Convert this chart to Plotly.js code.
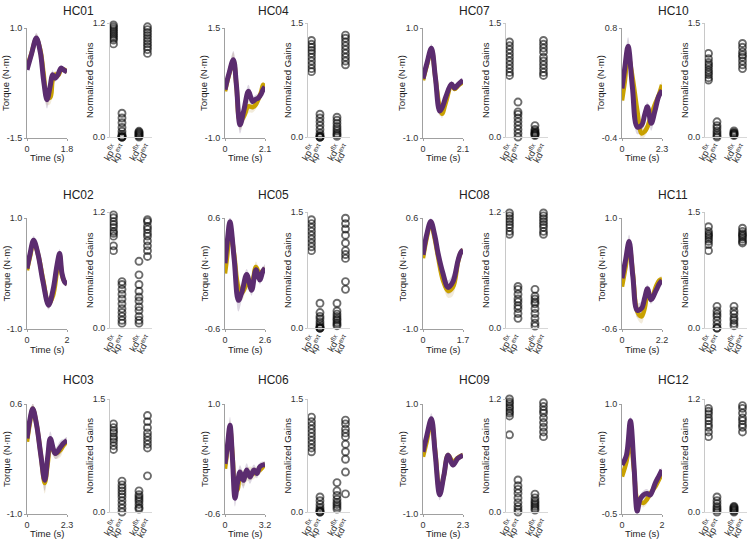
<!DOCTYPE html>
<html>
<head>
<meta charset="utf-8">
<script src="https://cdn.plot.ly/plotly-3.0.1.min.js"></script>
<style>html,body{margin:0;padding:0;background:#fff;}#chart{width:750px;height:543px;}</style>
</head>
<body>
<div id="chart"></div>
<script>
// ---------------- DATA ----------------
const subjects = ['HC01','HC02','HC03','HC04','HC05','HC06','HC07','HC08','HC09','HC10','HC11','HC12'];
const durations = [1.8, 2, 2.3, 2.1, 2.6, 3.2, 2.1, 1.7, 2.3, 2.3, 2.2, 2];
const torqueMin = [-1.5, -1.0, -1.0, -1.0, -0.6, -0.6, -1.0, -1.0, -1.0, -0.4, -0.6, -0.5];
const torqueMax = [1.0, 1.0, 0.6, 1.5, 0.6, 1.0, 1.0, 0.6, 1.0, 0.8, 1.0, 1.0];
const gainMax   = [1.2, 1.2, 1.5, 1.5, 1.5, 1.5, 1.5, 1.2, 1.2, 1.5, 1.5, 1.2];
const gainLabels = ['kp<sup>flx</sup>', 'kp<sup>ext</sup>', 'kd<sup>flx</sup>', 'kd<sup>ext</sup>'];

// time (s), model torque (purple), measured torque (gold), spread
const hc01_t = [0, 0.2, 0.42, 0.6, 0.75, 0.9, 1.05, 1.15, 1.27, 1.4, 1.53, 1.65, 1.8];
const hc01_purple = [0.05, 0.4, 0.77, 0.45, -0.2, -0.63, -0.3, -0.06, -0.14, -0.05, 0.09, 0.05, 0.0];
const hc01_gold = [0.1, 0.42, 0.75, 0.5, -0.05, -0.55, -0.58, -0.2, -0.06, -0.08, 0.05, 0.06, 0.0];
const hc01_sd = [0.05, 0.08, 0.12, 0.1, 0.12, 0.2, 0.15, 0.1, 0.08, 0.08, 0.06, 0.05, 0.04];

const hc02_t = [0, 0.15, 0.33, 0.55, 0.8, 1.08, 1.3, 1.5, 1.63, 1.75, 1.88, 2.0];
const hc02_purple = [0.09, 0.35, 0.6, 0.35, -0.15, -0.57, -0.3, 0.15, 0.36, 0.0, -0.15, -0.19];
const hc02_gold = [0.06, 0.3, 0.57, 0.35, -0.1, -0.55, -0.4, 0.05, 0.33, -0.03, -0.15, -0.18];
const hc02_sd = [0.04, 0.06, 0.08, 0.06, 0.06, 0.08, 0.07, 0.06, 0.08, 0.06, 0.05, 0.04];

const hc03_t = [0, 0.15, 0.33, 0.55, 0.8, 1.02, 1.2, 1.34, 1.63, 1.92, 2.1, 2.3];
const hc03_purple = [0.1, 0.35, 0.53, 0.3, -0.15, -0.51, -0.15, 0.1, -0.12, -0.03, 0.03, 0.07];
const hc03_gold = [0.05, 0.3, 0.53, 0.3, -0.15, -0.55, -0.25, 0.0, -0.12, -0.07, 0.0, 0.05];
const hc03_sd = [0.04, 0.06, 0.08, 0.07, 0.1, 0.15, 0.12, 0.1, 0.08, 0.1, 0.06, 0.05];

const hc04_t = [0, 0.2, 0.44, 0.6, 0.79, 1.0, 1.23, 1.45, 1.6, 1.75, 1.9, 2.0, 2.1];
const hc04_purple = [0.1, 0.45, 0.78, 0.2, -0.7, -0.35, 0.06, -0.17, -0.12, -0.09, 0.0, 0.1, 0.16];
const hc04_gold = [0.06, 0.42, 0.75, 0.2, -0.62, -0.5, -0.28, -0.3, -0.25, -0.12, 0.05, 0.21, 0.14];
const hc04_sd = [0.05, 0.12, 0.2, 0.15, 0.2, 0.15, 0.15, 0.12, 0.1, 0.1, 0.08, 0.06, 0.05];

const hc05_t = [0, 0.15, 0.32, 0.6, 0.87, 1.1, 1.41, 1.73, 2.01, 2.27, 2.45, 2.6];
const hc05_purple = [0.11, 0.35, 0.56, 0.15, -0.29, -0.2, -0.01, -0.18, 0.04, -0.07, 0.02, 0.06];
const hc05_gold = [0.0, 0.2, 0.49, 0.2, -0.15, -0.21, -0.12, -0.1, 0.07, -0.01, 0.03, 0.04];
const hc05_sd = [0.04, 0.06, 0.08, 0.06, 0.12, 0.08, 0.06, 0.06, 0.06, 0.05, 0.04, 0.04];

const hc06_t = [0, 0.2, 0.4, 0.6, 0.8, 1.0, 1.2, 1.47, 1.73, 2.0, 2.32, 2.55, 2.8, 3.2];
const hc06_purple = [0.13, 0.4, 0.69, 0.2, -0.37, -0.15, 0.01, -0.11, 0.04, -0.06, 0.04, -0.01, 0.09, 0.12];
const hc06_gold = [0.06, 0.35, 0.64, 0.25, -0.2, -0.25, -0.06, -0.08, -0.03, -0.01, -0.01, 0.02, 0.04, 0.13];
const hc06_sd = [0.04, 0.1, 0.12, 0.1, 0.12, 0.1, 0.1, 0.12, 0.1, 0.1, 0.08, 0.07, 0.06, 0.04];

const hc07_t = [0, 0.2, 0.44, 0.65, 0.875, 1.0, 1.2, 1.49, 1.66, 1.84, 2.1];
const hc07_purple = [0.08, 0.35, 0.63, 0.1, -0.51, -0.45, -0.25, -0.02, -0.09, -0.03, 0.05];
const hc07_gold = [0.05, 0.32, 0.6, 0.1, -0.45, -0.56, -0.35, -0.05, -0.11, -0.05, 0.02];
const hc07_sd = [0.04, 0.05, 0.08, 0.06, 0.08, 0.08, 0.06, 0.05, 0.04, 0.04, 0.03];

const hc08_t = [0, 0.15, 0.33, 0.5, 0.64, 0.85, 1.06, 1.27, 1.49, 1.6, 1.7];
const hc08_purple = [0.07, 0.35, 0.55, 0.35, 0.09, -0.2, -0.4, -0.32, -0.01, 0.1, 0.14];
const hc08_gold = [0.02, 0.3, 0.53, 0.3, 0.04, -0.3, -0.45, -0.4, -0.03, 0.1, 0.14];
const hc08_sd = [0.03, 0.04, 0.05, 0.04, 0.04, 0.06, 0.1, 0.12, 0.06, 0.04, 0.03];

const hc09_t = [0, 0.2, 0.48, 0.7, 0.96, 1.2, 1.44, 1.72, 2.0, 2.3];
const hc09_purple = [0.13, 0.4, 0.73, 0.1, -0.65, -0.3, 0.07, -0.11, 0.01, 0.07];
const hc09_gold = [0.04, 0.3, 0.67, 0.15, -0.59, -0.3, 0.07, -0.05, 0.02, 0.07];
const hc09_sd = [0.05, 0.08, 0.1, 0.08, 0.1, 0.08, 0.06, 0.05, 0.05, 0.04];

const hc10_t = [0, 0.15, 0.35, 0.6, 0.88, 1.13, 1.3, 1.46, 1.68, 1.9, 2.1, 2.3];
const hc10_purple = [0.14, 0.35, 0.6, 0.15, -0.28, -0.26, -0.15, -0.06, -0.24, -0.1, 0.05, 0.12];
const hc10_gold = [0.01, 0.2, 0.5, 0.27, -0.1, -0.35, -0.33, -0.28, -0.15, -0.03, 0.06, 0.18];
const hc10_sd = [0.04, 0.06, 0.1, 0.08, 0.08, 0.07, 0.06, 0.05, 0.08, 0.06, 0.05, 0.04];

const hc11_t = [0, 0.2, 0.39, 0.6, 0.84, 1.08, 1.25, 1.4, 1.59, 1.88, 2.05, 2.2];
const hc11_purple = [0.13, 0.4, 0.66, 0.15, -0.33, -0.3, -0.15, -0.02, -0.18, -0.04, 0.05, 0.1];
const hc11_gold = [0.01, 0.3, 0.61, 0.2, -0.35, -0.42, -0.3, -0.12, -0.16, 0.02, 0.1, 0.12];
const hc11_sd = [0.04, 0.08, 0.1, 0.08, 0.1, 0.1, 0.08, 0.06, 0.06, 0.05, 0.05, 0.04];

const hc12_t = [0, 0.22, 0.42, 0.6, 0.76, 0.9, 1.07, 1.25, 1.41, 1.66, 1.85, 2.0];
const hc12_purple = [0.17, 0.3, 0.77, 0.15, -0.46, -0.3, -0.24, -0.22, -0.24, -0.08, 0.02, 0.1];
const hc12_gold = [0.01, 0.21, 0.5, 0.1, -0.3, -0.33, -0.35, -0.3, -0.22, -0.13, -0.03, 0.05];
const hc12_sd = [0.03, 0.04, 0.06, 0.05, 0.05, 0.05, 0.06, 0.06, 0.05, 0.04, 0.04, 0.03];

// normalized gains
const hc01_kpFlx = [1.18, 1.16, 1.14, 1.12, 1.1, 1.08, 1.06, 1.04, 1.02, 0.98];
const hc01_kpExt = [0.25, 0.2, 0.15, 0.1, 0.06, 0.03, 0.01, 0, 0, 0];
const hc01_kdFlx = [0.06, 0.05, 0.04, 0.03, 0.02, 0.01, 0.0];
const hc01_kdExt = [1.16, 1.13, 1.1, 1.07, 1.04, 1.01, 0.98, 0.95, 0.92, 0.88];

const hc02_kpFlx = [1.17, 1.14, 1.1, 1.07, 1.04, 1.0, 0.98, 0.95, 0.85, 0.8];
const hc02_kpExt = [0.48, 0.45, 0.4, 0.35, 0.3, 0.25, 0.2, 0.16, 0.12, 0.08, 0.05];
const hc02_kdFlx = [0.69, 0.55, 0.45, 0.38, 0.32, 0.28, 0.22, 0.18, 0.12, 0.08, 0.05];
const hc02_kdExt = [1.12, 1.1, 1.05, 1.02, 0.98, 0.95, 0.9, 0.85, 0.8, 0.74];

const hc03_kpFlx = [1.17, 1.12, 1.08, 1.05, 1.0, 0.97, 0.93, 0.88, 0.83];
const hc03_kpExt = [0.41, 0.36, 0.32, 0.28, 0.24, 0.2, 0.15, 0.1, 0.05, 0.0];
const hc03_kdFlx = [0.28, 0.23, 0.2, 0.17, 0.14, 0.1, 0.06, 0.04];
const hc03_kdExt = [1.28, 1.2, 1.12, 1.05, 1.0, 0.95, 0.9, 0.85, 0.48];

const hc04_kpFlx = [1.27, 1.22, 1.18, 1.14, 1.1, 1.05, 1.0, 0.95, 0.9, 0.86];
const hc04_kpExt = [0.3, 0.25, 0.2, 0.15, 0.1, 0.05, 0.02, 0, 0, 0];
const hc04_kdFlx = [0.26, 0.22, 0.18, 0.14, 0.11, 0.08, 0.05, 0.03, 0.01];
const hc04_kdExt = [1.34, 1.3, 1.25, 1.2, 1.15, 1.1, 1.05, 1.0, 0.95];

const hc05_kpFlx = [1.4, 1.35, 1.3, 1.25, 1.2, 1.15, 1.1, 1.05, 1.0];
const hc05_kpExt = [0.32, 0.2, 0.15, 0.12, 0.08, 0.05, 0.02, 0, 0, 0];
const hc05_kdFlx = [0.32, 0.22, 0.18, 0.15, 0.12, 0.1, 0.07, 0.05, 0.03];
const hc05_kdExt = [1.42, 1.35, 1.28, 1.2, 1.1, 1.0, 0.95, 0.9, 0.6, 0.5];

const hc06_kpFlx = [1.26, 1.2, 1.15, 1.1, 1.05, 1.0, 0.95, 0.9, 0.85, 0.8];
const hc06_kpExt = [0.2, 0.15, 0.1, 0.06, 0.03, 0.01, 0, 0];
const hc06_kdFlx = [0.39, 0.28, 0.22, 0.17, 0.13, 0.1, 0.07, 0.04];
const hc06_kdExt = [1.22, 1.17, 1.1, 1.05, 1.0, 0.9, 0.8, 0.7, 0.53, 0.24];

const hc07_kpFlx = [1.25, 1.2, 1.15, 1.1, 1.05, 1.0, 0.95, 0.9, 0.85, 0.81];
const hc07_kpExt = [0.46, 0.33, 0.3, 0.25, 0.2, 0.15, 0.1, 0.05, 0.0];
const hc07_kdFlx = [0.15, 0.1, 0.08, 0.06, 0.05, 0.04, 0.03, 0.02];
const hc07_kdExt = [1.27, 1.22, 1.17, 1.12, 1.05, 1.0, 0.95, 0.9, 0.85, 0.81];

const hc08_kpFlx = [1.19, 1.16, 1.13, 1.1, 1.07, 1.04, 1.0, 0.97];
const hc08_kpExt = [0.43, 0.4, 0.35, 0.3, 0.27, 0.23, 0.2, 0.15, 0.1];
const hc08_kdFlx = [0.4, 0.33, 0.3, 0.27, 0.25, 0.2, 0.15, 0.1, 0.05, 0.02];
const hc08_kdExt = [1.19, 1.16, 1.13, 1.1, 1.07, 1.04, 1.0, 0.97];

const hc09_kpFlx = [1.2, 1.17, 1.15, 1.12, 1.1, 1.07, 1.05, 1.02, 0.82];
const hc09_kpExt = [0.34, 0.28, 0.24, 0.2, 0.15, 0.1, 0.06, 0.03, 0.0];
const hc09_kdFlx = [0.19, 0.15, 0.12, 0.1, 0.08, 0.06, 0.04, 0.02];
const hc09_kdExt = [1.16, 1.12, 1.08, 1.05, 1.0, 0.95, 0.9, 0.85, 0.8];

const hc10_kpFlx = [1.1, 1.03, 0.98, 0.95, 0.92, 0.88, 0.85, 0.82, 0.78, 0.75];
const hc10_kpExt = [0.2, 0.15, 0.12, 0.08, 0.05, 0.02, 0.0];
const hc10_kdFlx = [0.08, 0.06, 0.05, 0.04, 0.03, 0.02];
const hc10_kdExt = [1.23, 1.18, 1.12, 1.08, 1.05, 1.0, 0.95, 0.9];

const hc11_kpFlx = [1.31, 1.25, 1.22, 1.2, 1.18, 1.15, 1.12, 1.08, 1.0];
const hc11_kpExt = [0.28, 0.22, 0.18, 0.15, 0.1, 0.05, 0, 0];
const hc11_kdFlx = [0.28, 0.22, 0.18, 0.13, 0.1, 0.06, 0.03];
const hc11_kdExt = [1.29, 1.25, 1.22, 1.2, 1.18, 1.15, 1.12, 1.1];

const hc12_kpFlx = [1.1, 1.07, 1.04, 1.0, 0.97, 0.93, 0.9, 0.85, 0.8];
const hc12_kpExt = [0.16, 0.12, 0.09, 0.06, 0.04, 0.02, 0.0];
const hc12_kdFlx = [0.06, 0.05, 0.04, 0.03, 0.02, 0.01, 0.0];
const hc12_kdExt = [1.13, 1.1, 1.05, 1.0, 0.97, 0.93, 0.9, 0.85];

const torqueData = [
  [hc01_t, hc01_purple, hc01_gold, hc01_sd], [hc02_t, hc02_purple, hc02_gold, hc02_sd],
  [hc03_t, hc03_purple, hc03_gold, hc03_sd], [hc04_t, hc04_purple, hc04_gold, hc04_sd],
  [hc05_t, hc05_purple, hc05_gold, hc05_sd], [hc06_t, hc06_purple, hc06_gold, hc06_sd],
  [hc07_t, hc07_purple, hc07_gold, hc07_sd], [hc08_t, hc08_purple, hc08_gold, hc08_sd],
  [hc09_t, hc09_purple, hc09_gold, hc09_sd], [hc10_t, hc10_purple, hc10_gold, hc10_sd],
  [hc11_t, hc11_purple, hc11_gold, hc11_sd], [hc12_t, hc12_purple, hc12_gold, hc12_sd]
];
const gainData = [
  [hc01_kpFlx, hc01_kpExt, hc01_kdFlx, hc01_kdExt], [hc02_kpFlx, hc02_kpExt, hc02_kdFlx, hc02_kdExt],
  [hc03_kpFlx, hc03_kpExt, hc03_kdFlx, hc03_kdExt], [hc04_kpFlx, hc04_kpExt, hc04_kdFlx, hc04_kdExt],
  [hc05_kpFlx, hc05_kpExt, hc05_kdFlx, hc05_kdExt], [hc06_kpFlx, hc06_kpExt, hc06_kdFlx, hc06_kdExt],
  [hc07_kpFlx, hc07_kpExt, hc07_kdFlx, hc07_kdExt], [hc08_kpFlx, hc08_kpExt, hc08_kdFlx, hc08_kdExt],
  [hc09_kpFlx, hc09_kpExt, hc09_kdFlx, hc09_kdExt], [hc10_kpFlx, hc10_kpExt, hc10_kdFlx, hc10_kdExt],
  [hc11_kpFlx, hc11_kpExt, hc11_kdFlx, hc11_kdExt], [hc12_kpFlx, hc12_kpExt, hc12_kdFlx, hc12_kdExt]
];

// ---------------- LAYOUT ----------------
const W = 750, H = 543;
const FONT = '"Liberation Sans", Arial, sans-serif';
const colTorqueX = [27, 225, 423, 622], torqueW = 40;
const colGainX = [110, 308, 506, 705], gainW = 42;
const rowTorqueY = [[28, 138], [218, 329], [404, 514]];
const rowGainY = [[23, 137], [212, 328], [399, 512]];
const timeY = [158, 349, 533];
const titleX = [78, 273, 474, 673], titleY = [11, 195, 380];
const gainPos = [1, 2, 4, 5];
const GOLD = '#c9a100', PURPLE = '#5b2c6f';
const AXIS = '#a0a0a0', TXT = '#333333';

const px = v => v / W, py = v => 1 - v / H;
const traces = [];
const layout = {
  width: W, height: H, margin: {l: 0, r: 0, t: 0, b: 0},
  paper_bgcolor: '#fff', plot_bgcolor: 'rgba(0,0,0,0)',
  showlegend: false, font: {family: FONT, color: TXT, size: 9},
  annotations: []
};

subjects.forEach((name, i) => {
  const col = Math.floor(i / 3), row = i % 3;
  const ta = 2 * i + 1, ga = 2 * i + 2;
  const [t, pur, gol, sd] = torqueData[i];
  const T = durations[i];

  // torque bands
  const upP = pur.map((v, k) => v + sd[k]), loP = pur.map((v, k) => v - sd[k]);
  const upG = gol.map((v, k) => v + sd[k]), loG = gol.map((v, k) => v - sd[k]);
  const tb = t.concat(t.slice().reverse());
  traces.push({x: tb, y: upG.concat(loG.slice().reverse()), xaxis: 'x' + ta, yaxis: 'y' + ta,
    mode: 'lines', fill: 'toself', fillcolor: 'rgba(205,175,110,0.25)', line: {width: 0, shape: 'spline'}, hoverinfo: 'skip'});
  traces.push({x: tb, y: upP.concat(loP.slice().reverse()), xaxis: 'x' + ta, yaxis: 'y' + ta,
    mode: 'lines', fill: 'toself', fillcolor: 'rgba(120,95,140,0.25)', line: {width: 0, shape: 'spline'}, hoverinfo: 'skip'});
  traces.push({x: t, y: gol, xaxis: 'x' + ta, yaxis: 'y' + ta, mode: 'lines',
    line: {color: GOLD, width: 4.5, shape: 'spline'}, cliponaxis: false});
  traces.push({x: t, y: pur, xaxis: 'x' + ta, yaxis: 'y' + ta, mode: 'lines',
    line: {color: PURPLE, width: 5, shape: 'spline'}, cliponaxis: false});

  // gains
  gainData[i].forEach((vals, c) => {
    traces.push({x: vals.map(() => gainPos[c]), y: vals, xaxis: 'x' + ga, yaxis: 'y' + ga,
      mode: 'markers', cliponaxis: false,
      marker: {symbol: 'circle-open', size: 7, color: 'rgba(10,10,10,0.6)', line: {width: 1.9}}});
  });

  const tx0 = colTorqueX[col], ty = rowTorqueY[row];
  const gx0 = colGainX[col], gy = rowGainY[row];

  layout['xaxis' + ta] = {domain: [px(tx0), px(tx0 + torqueW)], anchor: 'y' + ta, range: [0, T],
    showgrid: false, zeroline: false, showline: true, linecolor: AXIS, linewidth: 1,
    ticks: 'outside', ticklen: 2, tickcolor: AXIS, tickvals: [0, T], ticktext: ['0', String(T)],
    tickfont: {size: 9, color: TXT, family: FONT}, fixedrange: true};
  layout['yaxis' + ta] = {domain: [py(ty[1]), py(ty[0])], anchor: 'x' + ta, range: [torqueMin[i], torqueMax[i]],
    showgrid: false, zeroline: false, showline: true, linecolor: AXIS, linewidth: 1,
    ticks: 'outside', ticklen: 2, tickcolor: AXIS, tickvals: [torqueMin[i], torqueMax[i]],
    ticktext: [torqueMin[i].toFixed(1), torqueMax[i].toFixed(1)],
    tickfont: {size: 9, color: TXT, family: FONT}, fixedrange: true};

  layout['xaxis' + ga] = {domain: [px(gx0), px(gx0 + gainW)], anchor: 'y' + ga, range: [0.59, 5.53],
    showgrid: false, zeroline: false, showline: true, linecolor: '#d8d8d8', linewidth: 1,
    ticks: '', tickvals: gainPos, ticktext: gainLabels, tickangle: -60,
    tickfont: {size: 9.5, color: TXT, family: FONT}, fixedrange: true};
  layout['yaxis' + ga] = {domain: [py(gy[1]), py(gy[0])], anchor: 'x' + ga, range: [0, gainMax[i]],
    showgrid: false, zeroline: false, showline: true, linecolor: '#c8c8c8', linewidth: 1,
    ticks: 'outside', ticklen: 2, tickcolor: '#c8c8c8', tickvals: [0, gainMax[i]],
    ticktext: ['0.0', gainMax[i].toFixed(1)],
    tickfont: {size: 9, color: TXT, family: FONT}, fixedrange: true};

  const ann = (x, y, text, size, angle) => layout.annotations.push({
    xref: 'paper', yref: 'paper', x: px(x), y: py(y), text: text, showarrow: false,
    xanchor: 'center', yanchor: 'middle', textangle: angle || 0,
    font: {size: size, color: '#222', family: FONT}});
  ann(titleX[col], titleY[row], name, 12);
  ann(tx0 - 21, (ty[0] + ty[1]) / 2, 'Torque (N·m)', 9.5, -90);
  ann(gx0 - 21, (gy[0] + gy[1]) / 2, 'Normalized Gains', 9.5, -90);
  ann(tx0 + torqueW / 2, timeY[row], 'Time (s)', 9.5);
});

Plotly.newPlot('chart', traces, layout, {staticPlot: true, displayModeBar: false});
</script>
</body>
</html>
